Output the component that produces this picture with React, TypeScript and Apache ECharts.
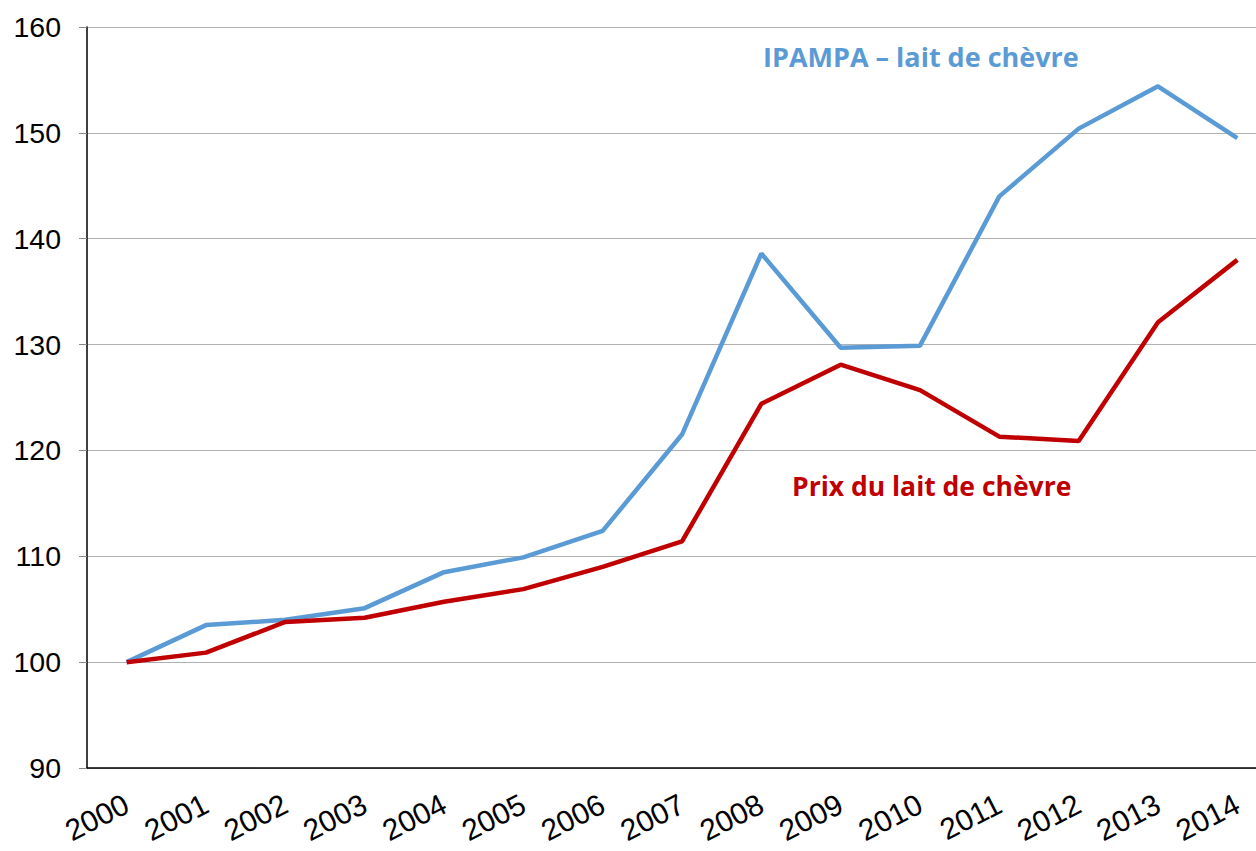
import React, { useEffect, useRef } from "react";
import * as echarts from "echarts";

const years = ["2000","2001","2002","2003","2004","2005","2006","2007","2008","2009","2010","2011","2012","2013","2014"];
const ipampa = [100, 103.5, 104.0, 105.1, 108.5, 109.9, 112.4, 121.5, 138.6, 129.7, 129.9, 144.0, 150.4, 154.4, 149.5];
const prix = [100, 100.9, 103.8, 104.2, 105.7, 106.9, 109.0, 111.4, 124.4, 128.1, 125.7, 121.3, 120.9, 132.1, 138.0];
const yTicks = { min: 90, max: 160, interval: 10 };

export default function App() {
  const ref = useRef<HTMLDivElement>(null);
  useEffect(() => {
    const chart = echarts.init(ref.current!, null, { renderer: "svg" });
    chart.setOption({
      animation: false,
      backgroundColor: "#fff",
      grid: { left: 87, top: 27, right: 0, bottom: 83 },
      xAxis: {
        type: "category",
        data: years,
        boundaryGap: true,
        axisLine: { lineStyle: { color: "#000", width: 1.5 } },
        axisTick: { length: 10, lineStyle: { color: "#555" } },
        axisLabel: {
          rotate: 27,
          margin: 34,
          fontFamily: "Liberation Sans",
          fontSize: 30,
          color: "#000",
          interval: 0,
        },
      },
      yAxis: {
        type: "value",
        min: yTicks.min,
        max: yTicks.max,
        interval: yTicks.interval,
        axisLine: { show: true, lineStyle: { color: "#000", width: 1.5 } },
        axisTick: { show: true, length: 8, lineStyle: { color: "#888" } },
        splitLine: { lineStyle: { color: "#b0b0b0", width: 1 } },
        axisLabel: {
          margin: 26,
          fontFamily: "Liberation Sans",
          fontSize: 28.5,
          color: "#000",
        },
      },
      series: [
        {
          type: "line",
          data: ipampa,
          symbol: "none",
          lineStyle: { color: "#5B9BD5", width: 4.5 },
          z: 2,
        },
        {
          type: "line",
          data: prix,
          symbol: "none",
          lineStyle: { color: "#C00000", width: 4.5 },
          z: 3,
        },
      ],
      graphic: [
        {
          type: "text",
          left: 763,
          top: 43,
          style: {
            text: "IPAMPA – lait de chèvre",
            fill: "#5B9BD5",
            font: "bold 27px 'Open Sans'",
          },
        },
        {
          type: "text",
          left: 792,
          top: 472,
          style: {
            text: "Prix du lait de chèvre",
            fill: "#C00000",
            font: "bold 26.5px 'Open Sans'",
          },
        },
      ],
    });
    return () => chart.dispose();
  }, []);
  return (
    <div
      ref={ref}
      style={{ position: "fixed", left: 0, top: 0, width: 1277, height: 851 }}
    />
  );
}
